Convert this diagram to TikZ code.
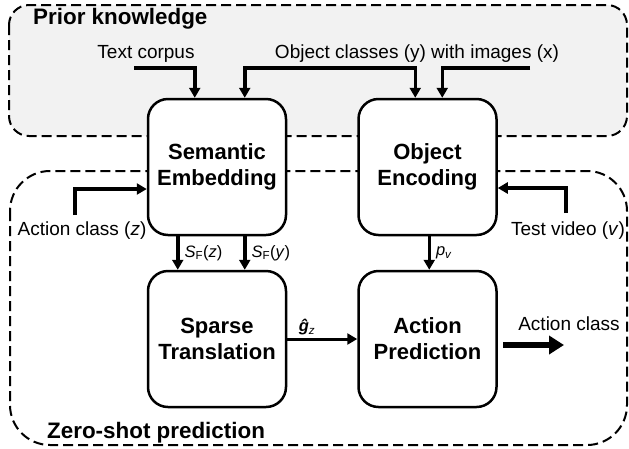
\documentclass[tikz,border=0pt]{standalone}
\usepackage{fontspec}
\setmainfont{Liberation Sans}
\usetikzlibrary{arrows.meta}
\definecolor{priorfill}{RGB}{242,242,242}
\tikzset{
  region/.style={draw=black, line width=2pt, dash pattern=on 10pt off 5pt},
  procbox/.style={draw=black, fill=white, line width=2.5pt, rounded corners=20pt,
    minimum width=138pt, minimum height=136pt, align=center,
    font=\fontsize{22}{26}\selectfont\bfseries},
  arr/.style={line width=3.5pt, -{Triangle[width=11pt,length=10pt]}},
  thinarr/.style={line width=3pt, -{Triangle[width=11pt,length=10pt]}},
  bigarr/.style={line width=6.5pt, -{Triangle[width=18pt,length=15pt]}},
  lbl/.style={font=\fontsize{19}{22}\selectfont, inner sep=0pt},
  reglbl/.style={font=\fontsize{22.4}{26}\selectfont\bfseries, inner sep=0pt, anchor=west},
  mlbl/.style={font=\fontsize{16.5}{19}\selectfont, inner sep=0pt}
}
\begin{document}
\begin{tikzpicture}[x=1pt,y=-1pt]
\useasboundingbox (0,0) rectangle (629,448);
% regions
\draw[region, fill=priorfill, rounded corners=20pt] (9,5) rectangle (627,136);
\draw[region, rounded corners=40pt] (10,171) rectangle (627,445);
\node[reglbl] (priorlbl) at (33,18.5) {Prior knowledge};
\node[reglbl] (zerolbl) at (47,433) {Zero-shot prediction};
% boxes
\node[procbox] (sem) at (217,167) {Semantic\\Embedding};
\node[procbox] (obj) at (427.5,167) {Object\\Encoding};
\node[procbox] (sparse) at (217,339) {Sparse\\Translation};
\node[procbox] (act) at (427.5,339) {Action\\Prediction};
% input labels
\node[lbl] (tclbl) at (146,54) {Text corpus};
\node[lbl] (oclbl) at (417,54) {Object classes (y) with images (x)};
\node[lbl] (aczlbl) at (82,231) {Action class (\textit{z})};
\node[lbl] (tvlbl) at (568,231) {Test video (\textit{v})};
\node[lbl] (outlbl) at (569,324) {Action class};
% connector free ends
\coordinate (tcA) at (134,68);
\coordinate (ocA) at (332,68);
\coordinate (imA) at (530,68);
\coordinate (aczA) at (75,215);
\coordinate (tvA) at (566,213);
\coordinate (outS) at (503,345);
\coordinate (outE) at (564,345);
% arrows
\draw[arr] (tcA) -| ([xshift=48pt]sem.north west);
\draw[arr] (ocA) -| ([xshift=98pt]sem.north west);
\draw[arr] (ocA) -| ([xshift=58pt]obj.north west);
\draw[arr] (imA) -| ([xshift=85pt]obj.north west);
\draw[arr] (aczA) |- ([yshift=-22pt]sem.west);
\draw[arr] (tvA) |- ([yshift=-21pt]obj.east);
\draw[arr] ([xshift=31pt]sem.south west) -- ([xshift=31pt]sparse.north west)
  node[mlbl, midway, right=5pt] (sfz) {\textit{S}\textsubscript{F}(\textit{z})};
\draw[arr] ([xshift=98pt]sem.south west) -- ([xshift=98pt]sparse.north west)
  node[mlbl, midway, right=5pt] (sfy) {\textit{S}\textsubscript{F}(\textit{y})};
\draw[arr] ([xshift=72pt]obj.south west) -- ([xshift=72pt]act.north west)
  node[mlbl, midway, right=5pt] (pv) {\textit{p}\textsubscript{\textit{v}}};
\draw[thinarr] (sparse.east) -- (act.west);
\node[mlbl] (gz) at (307,327) {\textbf{\textit{ĝ}}\textsubscript{\textit{z}}};
\draw[bigarr] (outS) -- (outE);
\end{tikzpicture}
\end{document}
